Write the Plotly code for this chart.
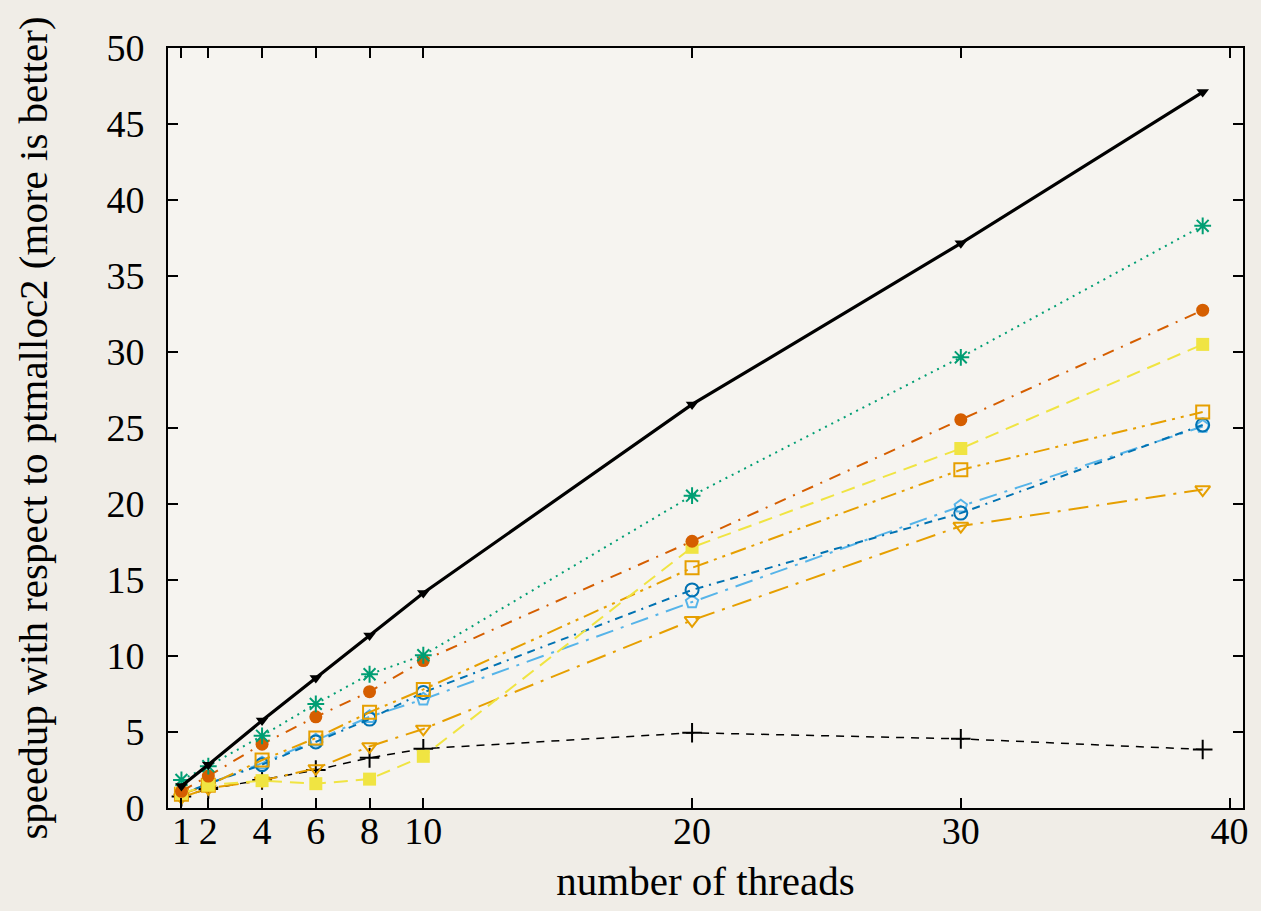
import plotly.graph_objects as go

threads = [1, 2, 4, 6, 8, 10, 20, 30, 39]

black_solid = [1.45, 2.85, 5.75, 8.55, 11.35, 14.15, 26.55, 37.15, 47.1]
green_star = [1.85, 2.75, 4.75, 6.85, 8.8, 10.05, 20.55, 29.65, 38.3]
red_circle = [1.1, 2.1, 4.2, 6.0, 7.65, 9.7, 17.55, 25.55, 32.75]
yellow_square = [0.95, 1.5, 1.8, 1.6, 1.9, 3.4, 17.15, 23.65, 30.5]
orange_square = [0.9, 1.5, 3.15, 4.6, 6.3, 7.8, 15.8, 22.25, 26.05]
blue_circle = [0.9, 1.6, 2.85, 4.35, 5.85, 7.6, 14.35, 19.4, 25.2]
lightblue_pent = [0.9, 1.6, 2.95, 4.45, 6.0, 7.15, 13.55, 19.85, 25.1]
orange_tri = [0.7, 1.3, 1.8, 2.6, 4.05, 5.2, 12.35, 18.55, 20.95]
black_plus = [0.75, 1.25, 1.85, 2.5, 3.3, 3.9, 4.95, 4.55, 3.85]

x_ticks = [1, 2, 4, 6, 8, 10, 20, 30, 40]
y_ticks = [0, 5, 10, 15, 20, 25, 30, 35, 40, 45, 50]

series = [
    (black_plus, "#000000", "8px,7px", 1.5, "cross-thin-open", 14, 2),
    (orange_tri, "#E69F00", "20px,8px,3px,8px", 2, "triangle-down-open", 13, 2),
    (lightblue_pent, "#56B4E9", "18px,8px,3px,8px", 2, "pentagon-open", 13, 2),
    (blue_circle, "#0072B2", "8px,6px,8px,6px,2px,6px", 2, "circle-open", 13, 2),
    (orange_square, "#E69F00", "16px,6px,3px,6px,3px,6px", 2, "square-open", 13, 2),
    (yellow_square, "#F0E442", "14px,8px", 2, "square", 13, 0),
    (red_circle, "#D55E00", "12px,8px,2px,8px", 2, "circle", 13, 0),
    (green_star, "#009E73", "2px,5px", 2, "asterisk-open", 14, 2),
    (black_solid, "#000000", "solid", 3.2, "triangle-down", 11, 0),
]

fig = go.Figure()
for vals, color, dash, lw, sym, ms, mlw in series:
    fig.add_trace(go.Scatter(
        x=threads, y=vals, mode="lines+markers",
        line=dict(color=color, width=lw, dash=dash),
        marker=dict(symbol=sym, size=ms, color=color,
                    line=dict(color=color, width=mlw)),
        showlegend=False,
    ))

font_family = "Liberation Serif, Times New Roman, serif"
paper = "#f0ede7"

fig.update_layout(
    width=1253, height=903,
    margin=dict(l=160, r=13, t=40, b=103),
    paper_bgcolor=paper,
    plot_bgcolor="#f6f4f0",
    font=dict(family=font_family, color="#000000", size=38),
    xaxis=dict(
        range=[0.5, 40.5], tickvals=x_ticks, ticktext=[str(v) for v in x_ticks],
        ticks="inside", ticklen=10, tickwidth=1.5, tickcolor="#000",
        showline=True, linecolor="#000", linewidth=2, mirror="ticks",
        showgrid=False, zeroline=False,
        tickfont=dict(size=38), ticklabelstandoff=-12,
        title=dict(text="number of threads", font=dict(size=41), standoff=16),
    ),
    yaxis=dict(
        range=[0, 50], tickvals=y_ticks,
        ticks="inside", ticklen=10, tickwidth=1.5, tickcolor="#000",
        showline=True, linecolor="#000", linewidth=2, mirror="ticks",
        showgrid=False, zeroline=False,
        tickfont=dict(size=38), ticklabelstandoff=14,
        title=dict(text="speedup with respect to ptmalloc2 (more is better)",
                   font=dict(size=41), standoff=46),
    ),
)

fig.write_html(
    "out.html",
    post_script="document.body.style.background='%s';" % paper,
)
